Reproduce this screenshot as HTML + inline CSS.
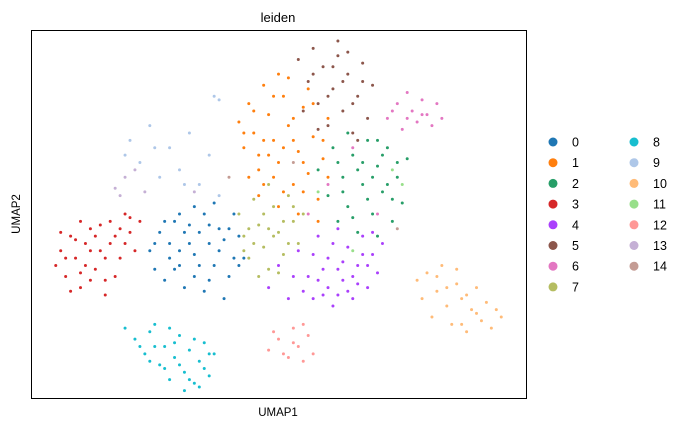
<!DOCTYPE html>
<html><head><meta charset="utf-8"><style>
body{margin:0;background:#fff;}
svg{display:block;font-family:"Liberation Sans","DejaVu Sans",sans-serif;}
</style></head><body>
<svg id="chart" width="685" height="429">
<rect x="0" y="0" width="685" height="429" fill="#fff"/>
<text x="278" y="22" text-anchor="middle" font-size="13">leiden</text>
<text x="278" y="416" text-anchor="middle" font-size="11.5">UMAP1</text>
<text x="20" y="214" text-anchor="middle" font-size="11.5" transform="rotate(-90 20 214)">UMAP2</text>
<g id="points"></g>
<rect x="31.5" y="30.5" width="495" height="368" fill="none" stroke="#000" stroke-width="1"/>
<g id="legend"></g>
</svg>
<script>
const categories=["0","1","2","3","4","5","6","7","8","9","10","11","12","13","14"];
const colors=["#1f77b4","#ff7f0e","#279e68","#d62728","#aa40fc","#8c564b","#e377c2","#b5bd61","#17becf","#aec7e8","#ffbb78","#98df8a","#ff9896","#c5b0d5","#c49c94"];
const c0=[[24,40],[26,45],[28,38],[30,50],[32,42],[34,36],[36,47],[38,40],[40,33],[42,44],[27,32],[31,30],[35,29],[39,27],[29,48],[33,52],[37,53],[41,50],[25,35],[43,38],[36,42],[30,40],[38,46],[33,33],[25,42],[27,48],[29,35],[31,45],[33,39],[35,50],[37,36],[39,43],[41,38],[34,45],[32,47],[28,42],[36,32],[40,46],[30,36],[42,36]];
const c1=[[42,75],[43,68],[44,80],[45,72],[46,62],[47,85],[48,77],[49,70],[50,64],[51,82],[52,74],[53,58],[54,67],[55,79],[56,61],[57,71],[58,54],[59,65],[60,76],[46,55],[50,52],[54,50],[48,66],[52,87],[56,84],[44,60],[58,48],[60,60],[45,78],[47,70],[49,82],[51,68],[53,76],[55,64],[57,80],[49,60],[51,56],[47,58],[53,70],[55,56],[43,72],[59,70],[50,88],[46,66]];
const c2=[[58,62],[60,55],[61,68],[62,48],[63,60],[64,52],[65,66],[66,45],[67,58],[68,70],[69,50],[70,63],[71,56],[72,68],[73,48],[74,60],[75,53],[76,65],[66,62],[70,44],[64,72],[72,58],[63,56],[65,49],[67,64],[69,60],[71,66],[73,54],[68,54],[62,64],[70,70],[74,64]];
const c3=[[5,36],[6,40],[7,33],[8,44],[9,38],[10,30],[11,42],[12,46],[13,35],[14,40],[15,28],[16,48],[17,44],[18,38],[19,50],[20,45],[21,40],[8,29],[12,32],[10,48],[14,47],[17,33],[22,48],[6,45],[7,38],[9,43],[11,36],[13,44],[15,38],[16,42],[18,46],[20,49],[10,34],[12,40],[19,42],[15,32]];
const c4=[[48,30],[50,36],[52,27],[54,40],[56,33],[58,44],[59,28],[60,38],[61,25],[62,46],[63,32],[64,41],[65,27],[66,36],[67,44],[68,30],[69,39],[70,34],[71,42],[57,39],[62,35],[66,31],[60,30],[55,29],[53,33],[57,27],[59,35],[61,42],[63,37],[65,33],[67,39],[69,45],[64,29],[58,32],[62,28],[68,36]];
const c5=[[54,92],[56,86],[57,95],[58,80],[59,90],[60,74],[61,84],[62,93],[63,78],[64,88],[65,72],[66,82],[67,91],[68,76],[69,85],[55,78],[62,97],[66,70],[58,73],[57,88],[60,82],[63,86],[65,80],[61,90],[64,94],[67,86]];
const c6=[[72,76],[74,80],[75,73],[76,83],[77,78],[78,75],[79,81],[80,77],[81,74],[82,80],[83,76],[60,58],[56,50],[70,50],[65,68],[73,78],[76,76],[79,77]];
const c7=[[42,50],[43,44],[44,38],[45,54],[46,47],[47,41],[48,35],[49,52],[50,45],[51,39],[52,55],[53,48],[54,42],[55,50],[46,33],[50,34],[44,46],[48,58],[43,40],[45,42],[47,50],[49,44],[51,48],[53,52],[52,42],[48,46]];
const c8=[[19,19],[21,16],[23,12],[24,18],[26,9],[27,14],[28,5],[29,11],[30,17],[31,7],[32,13],[33,4],[34,10],[35,15],[36,6],[37,12],[25,20],[28,19],[31,2],[22,14],[25,14],[27,8],[29,15],[30,9],[32,5],[33,16],[35,8],[36,12],[24,10],[34,3]];
const c9=[[20,70],[22,64],[24,74],[26,60],[28,68],[30,62],[32,72],[34,58],[36,66],[38,55],[37,82],[38,81],[19,66],[25,68],[31,58]];
const c10=[[78,32],[79,27],[80,34],[81,22],[82,29],[83,36],[84,25],[85,20],[86,31],[87,27],[88,18],[89,24],[90,30],[91,21],[92,26],[93,19],[94,24],[95,22],[86,35],[82,33],[84,30],[88,28],[90,23],[87,20]];
const c11=[[75,58],[73,62],[58,56],[65,40]];
const c12=[[48,13],[50,16],[51,12],[53,19],[54,14],[55,10],[56,17],[57,12],[52,11],[55,20],[49,18],[53,15]];
const c13=[[17,57],[19,60],[21,62],[18,55],[23,56],[33,56]];
const c14=[[40,60],[53,64],[74,46]];
const clusters=[c0,c1,c2,c3,c4,c5,c6,c7,c8,c9,c10,c11,c12,c13,c14];
const NS="http://www.w3.org/2000/svg";
function xScale(v){return 31+v*4.95;}
function yScale(v){return 398-v*3.68;}
const pg=document.getElementById('points');
clusters.forEach((pts,ci)=>{
  pts.forEach(p=>{
    const c=document.createElementNS(NS,'circle');
    c.setAttribute('cx',xScale(p[0]));
    c.setAttribute('cy',yScale(p[1]));
    c.setAttribute('r',1.5);
    c.setAttribute('fill',colors[ci]);
    
    
    pg.appendChild(c);
  });
});
const lg=document.getElementById('legend');
categories.forEach((cat,i)=>{
  const col=i<8?0:1, row=i<8?i:i-8;
  const cx=col===0?553:634, cy=142+row*20.7;
  const g=document.createElementNS(NS,'g');
  
  
  const c=document.createElementNS(NS,'circle');
  c.setAttribute('cx',cx);c.setAttribute('cy',cy);c.setAttribute('r',4.5);c.setAttribute('fill',colors[i]);
  
  
  const t=document.createElementNS(NS,'text');
  t.setAttribute('x',cx+19);t.setAttribute('y',cy+4.5);t.setAttribute('font-size','12.5');
  t.textContent=cat;
  
  
  g.appendChild(c);g.appendChild(t);lg.appendChild(g);
});
</script>
</body></html>
